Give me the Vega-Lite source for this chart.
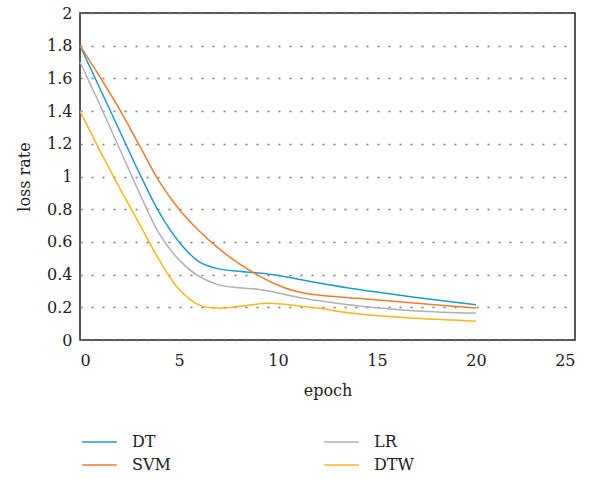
{
  "$schema": "https://vega.github.io/schema/vega-lite/v6.json",
  "width": 495,
  "height": 327,
  "autosize": {"type": "none"},
  "padding": {"left": 80, "top": 13, "right": 18, "bottom": 139},
  "background": "white",
  "config": {
    "font": "DejaVu Serif",
    "view": {"stroke": "#222", "strokeWidth": 1.5},
    "axis": {"labelFont": "DejaVu Serif", "titleFont": "DejaVu Serif", "labelColor": "#222", "titleColor": "#222", "labelFontSize": 16, "titleFontSize": 16, "titleFontWeight": "normal", "ticks": false, "domain": false}
  },
  "data": {"values": [
    {"epoch":0,"loss":1.8,"model":"DT"},{"epoch":1,"loss":1.54,"model":"DT"},{"epoch":2,"loss":1.28,"model":"DT"},{"epoch":3,"loss":1.02,"model":"DT"},{"epoch":4,"loss":0.78,"model":"DT"},{"epoch":5,"loss":0.6,"model":"DT"},{"epoch":6,"loss":0.48,"model":"DT"},{"epoch":7,"loss":0.435,"model":"DT"},{"epoch":8,"loss":0.42,"model":"DT"},{"epoch":9,"loss":0.41,"model":"DT"},{"epoch":10,"loss":0.395,"model":"DT"},{"epoch":12,"loss":0.35,"model":"DT"},{"epoch":14,"loss":0.31,"model":"DT"},{"epoch":17,"loss":0.26,"model":"DT"},{"epoch":20,"loss":0.215,"model":"DT"},
    {"epoch":0,"loss":1.8,"model":"SVM"},{"epoch":1,"loss":1.61,"model":"SVM"},{"epoch":2,"loss":1.41,"model":"SVM"},{"epoch":3,"loss":1.19,"model":"SVM"},{"epoch":4,"loss":0.97,"model":"SVM"},{"epoch":5,"loss":0.8,"model":"SVM"},{"epoch":6,"loss":0.67,"model":"SVM"},{"epoch":7,"loss":0.56,"model":"SVM"},{"epoch":8,"loss":0.47,"model":"SVM"},{"epoch":9,"loss":0.395,"model":"SVM"},{"epoch":10,"loss":0.335,"model":"SVM"},{"epoch":11,"loss":0.295,"model":"SVM"},{"epoch":12,"loss":0.275,"model":"SVM"},{"epoch":14,"loss":0.255,"model":"SVM"},{"epoch":17,"loss":0.225,"model":"SVM"},{"epoch":20,"loss":0.195,"model":"SVM"},
    {"epoch":0,"loss":1.7,"model":"LR"},{"epoch":1,"loss":1.44,"model":"LR"},{"epoch":2,"loss":1.17,"model":"LR"},{"epoch":3,"loss":0.9,"model":"LR"},{"epoch":4,"loss":0.65,"model":"LR"},{"epoch":5,"loss":0.49,"model":"LR"},{"epoch":6,"loss":0.39,"model":"LR"},{"epoch":7,"loss":0.337,"model":"LR"},{"epoch":8,"loss":0.32,"model":"LR"},{"epoch":9,"loss":0.31,"model":"LR"},{"epoch":10,"loss":0.288,"model":"LR"},{"epoch":11,"loss":0.262,"model":"LR"},{"epoch":12,"loss":0.242,"model":"LR"},{"epoch":14,"loss":0.21,"model":"LR"},{"epoch":17,"loss":0.178,"model":"LR"},{"epoch":20,"loss":0.165,"model":"LR"},
    {"epoch":0,"loss":1.4,"model":"DTW"},{"epoch":1,"loss":1.16,"model":"DTW"},{"epoch":2,"loss":0.93,"model":"DTW"},{"epoch":3,"loss":0.71,"model":"DTW"},{"epoch":4,"loss":0.49,"model":"DTW"},{"epoch":5,"loss":0.31,"model":"DTW"},{"epoch":6,"loss":0.215,"model":"DTW"},{"epoch":7,"loss":0.195,"model":"DTW"},{"epoch":8,"loss":0.205,"model":"DTW"},{"epoch":9.5,"loss":0.225,"model":"DTW"},{"epoch":11,"loss":0.21,"model":"DTW"},{"epoch":12,"loss":0.195,"model":"DTW"},{"epoch":14,"loss":0.16,"model":"DTW"},{"epoch":17,"loss":0.133,"model":"DTW"},{"epoch":20,"loss":0.115,"model":"DTW"}
  ]},
  "mark": {"type": "line", "interpolate": "catmull-rom", "strokeWidth": 1.5},
  "encoding": {
    "x": {"field": "epoch", "type": "quantitative", "scale": {"domain": [0, 25], "nice": false},
      "axis": {"values": [0,5,10,15,20,25], "grid": false, "labelPadding": 12, "title": "epoch", "titlePadding": 14}},
    "y": {"field": "loss", "type": "quantitative", "scale": {"domain": [0, 2], "nice": false},
      "axis": {"values": [0,0.2,0.4,0.6,0.8,1,1.2,1.4,1.6,1.8,2], "format": "~g", "grid": true, "gridDash": [2, 9], "gridColor": "#777", "gridWidth": 1.5, "labelPadding": 8, "title": "loss rate", "titlePadding": 14}},
    "color": {"field": "model", "type": "nominal", "sort": ["DT","SVM","LR","DTW"],
      "scale": {"domain": ["DT","SVM","LR","DTW"], "range": ["#1a9ad8","#f47a2a","#b0b0b0","#fdb515"]},
      "legend": {"title": null, "orient": "none", "legendX": 1, "legendY": 421, "columns": 2, "columnPadding": 152, "rowPadding": 7, "clipHeight": 16, "symbolType": "stroke", "symbolSize": 1200, "symbolStrokeWidth": 1.5, "labelFontSize": 16, "labelFont": "DejaVu Serif", "labelColor": "#222", "labelOffset": 14, "padding": 0}}
  }
}
